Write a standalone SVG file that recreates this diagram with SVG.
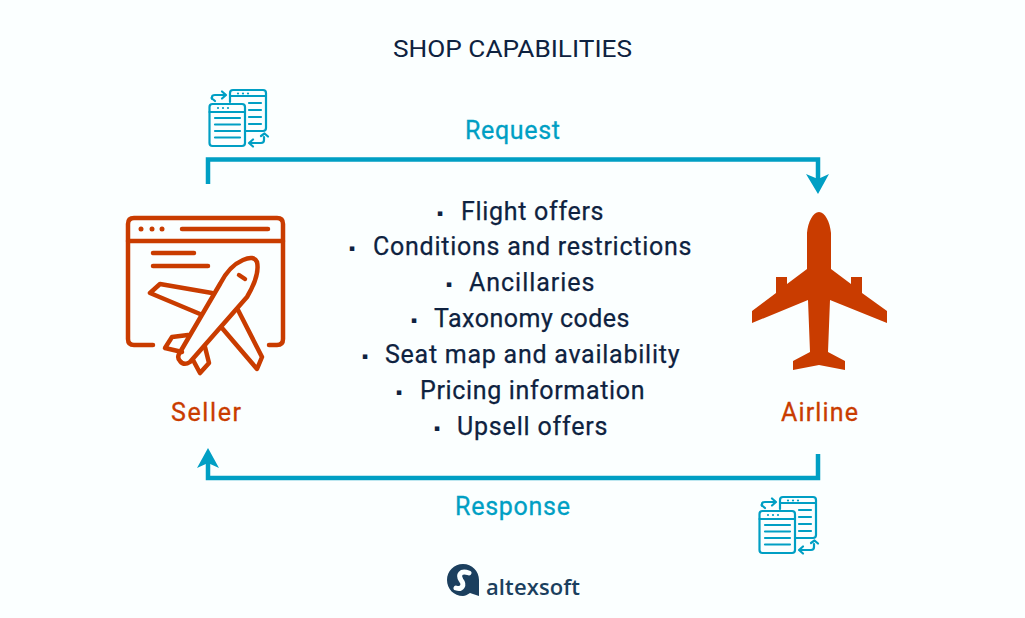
<svg xmlns="http://www.w3.org/2000/svg" xmlns:xlink="http://www.w3.org/1999/xlink" width="1025" height="618" viewBox="0 0 1025 618">
<style>
text{font-family:"Roboto","Noto Sans","Liberation Sans",sans-serif}
.item{font-size:25px;fill:#0e2240;stroke:#0e2240;stroke-width:.25;letter-spacing:.5px}
.bullet{font-size:9px;fill:#0e2240;font-family:"DejaVu Sans",sans-serif}
.teal{font-size:25px;fill:#009fc4;stroke:#009fc4;stroke-width:.3}
.orange{font-size:25px;fill:#c93c00;stroke:#c93c00;stroke-width:.3}
.wire{fill:none;stroke:#009fc4;stroke-width:4.500}
.head{fill:#009fc4}
.ol{fill:none;stroke:#c93c00;stroke-width:4.500;stroke-linecap:round;stroke-linejoin:round}
.doc{fill:none;stroke:#009fc4;stroke-width:2.200;stroke-linecap:round;stroke-linejoin:round}
.dots{fill:#009fc4}
</style>
<defs>
<g id="docs">
<path class="doc" d="M230 102V93Q230 90 233 90H263Q266 90 266 93V128Q266 131 263 131H246"/>
<path class="doc" d="M230 96H266"/>
<circle class="dots" cx="238" cy="93.500" r="1.100"/><circle class="dots" cx="243" cy="93.500" r="1.100"/><circle class="dots" cx="248" cy="93.500" r="1.100"/>
<path class="doc" d="M249 103H261M249 110H261M249 117H261M249 124H261"/>
<rect class="doc" x="209.500" y="104" width="35.500" height="42" rx="3"/>
<path class="doc" d="M209.500 112H245"/>
<circle class="dots" cx="218" cy="108" r="1.100"/><circle class="dots" cx="223" cy="108" r="1.100"/><circle class="dots" cx="228" cy="108" r="1.100"/>
<path class="doc" d="M215 118H240M215 124.500H240M215 131H240M215 137.500H240"/>
<path class="doc" d="M212 99V97Q212 95 215 95H225M222 91.500L226 95L222 98.500M215 101L211.500 98"/>
<path class="doc" d="M264 137V140Q264 143 261 143H250M253 139.500L249 143L253 146.500M261 136L264.500 133.500L268 136.500"/>
</g>
</defs>
<rect width="1025" height="618" fill="#fbffff"/>
<text x="393" y="57" font-size="24" fill="#0e2240" textLength="239" lengthAdjust="spacingAndGlyphs">SHOP CAPABILITIES</text>
<g id="connectors">
<path class="wire" d="M208 184V159.500H818V180"/>
<path class="head" d="M806 174L818 179L829 174L818 194Z"/>
<path class="wire" d="M818 454V478H208V462"/>
<path class="head" d="M197 468L208 463L219 468L208 448Z"/>
<text class="teal" x="465" y="139" textLength="95">Request</text>
<text class="teal" x="455" y="515" textLength="115">Response</text>
</g>
<g id="request-docs"><use href="#docs" xlink:href="#docs"/></g>
<g id="response-docs"><use href="#docs" xlink:href="#docs" transform="translate(550 407)"/></g>
<g id="seller">
<path class="ol" d="M153 345H134Q128 345 128 339V224Q128 218 134 218H277Q283 218 283 224V339Q283 345 277 345H269"/>
<path class="ol" d="M128 241H283M182 229H268M153 253H194M153 266H208"/>
<circle cx="141" cy="229" r="2.500" fill="#c93c00"/><circle cx="152" cy="229" r="2.500" fill="#c93c00"/><circle cx="162" cy="229" r="2.500" fill="#c93c00"/>
<path class="ol" d="M179 354L220 284Q229 266 243 260Q254 255 257 262Q260 275 247 297L190 362Q184 366 180 361Q177 358 179 354Z"/>
<path class="ol" d="M212 293L160 284L150 293L200 314M238 310L262 357L257 369L222 328"/>
<path class="ol" d="M188 335L172 337L165 348L182 352M205 347L209 363L200 373L193 360M239 275L245 279"/>
<text class="orange" x="171" y="421" textLength="70">Seller</text>
</g>
<g id="airline">
<path fill="#c93c00" d="M819 212C825 212 830 222 831 233V269L851 284V277H862V293L887 311V323L830 300L828 352L845 361V370L819 365L793 370V361L810 352L808 300L752 323V311L776 293V277H787V284L807 269V233C808 222 813 212 819 212Z"/>
<text class="orange" x="781" y="421" textLength="77">Airline</text>
</g>
<g id="capabilities">
<text class="bullet" x="440" y="216" text-anchor="middle">▪</text><text class="item" x="461" y="220" textLength="143">Flight offers</text>
<text class="bullet" x="352" y="251" text-anchor="middle">▪</text><text class="item" x="373" y="255" textLength="319">Conditions and restrictions</text>
<text class="bullet" x="449" y="287" text-anchor="middle">▪</text><text class="item" x="469" y="291" textLength="126">Ancillaries</text>
<text class="bullet" x="414" y="323" text-anchor="middle">▪</text><text class="item" x="434" y="327" textLength="196">Taxonomy codes</text>
<text class="bullet" x="365" y="359" text-anchor="middle">▪</text><text class="item" x="385" y="363" textLength="295">Seat map and availability</text>
<text class="bullet" x="399" y="395" text-anchor="middle">▪</text><text class="item" x="420" y="399" textLength="225">Pricing information</text>
<text class="bullet" x="437" y="431" text-anchor="middle">▪</text><text class="item" x="457" y="435" textLength="151">Upsell offers</text>
</g>
<g id="logo">
<path fill="#1b3f5e" d="M463 564C472 564 479 571 479 580V596L470 593C467 595 465 596 463 596C454 596 447 589 447 580C447 571 454 564 463 564Z"/>
<path fill="none" stroke="#fbffff" stroke-width="5" stroke-linecap="round" d="M469 573C460 570 458 575 461 580C465 585 462 590 456 588"/>
<text x="486" y="595" font-size="22" font-weight="600" fill="#1b3f5e" textLength="94" style="font-family:'Open Sans','Noto Sans',sans-serif">altexsoft</text>
</g>
</svg>
